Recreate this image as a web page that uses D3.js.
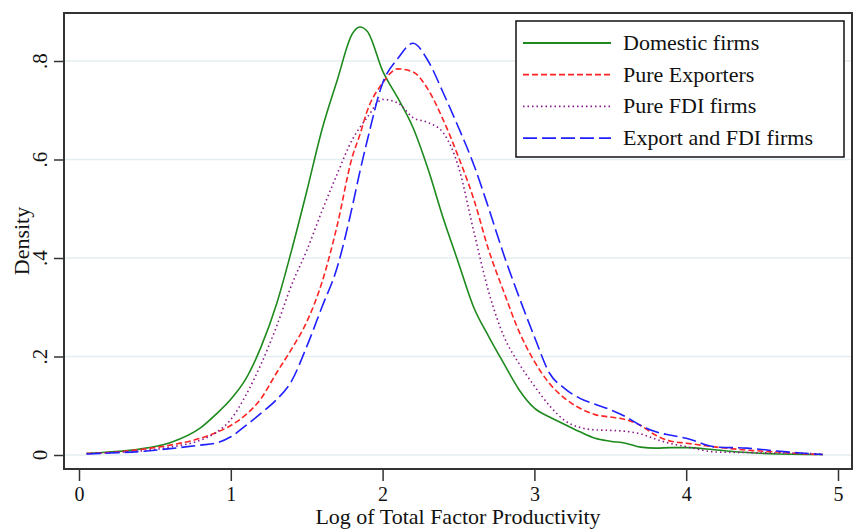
<!DOCTYPE html>
<html>
<head>
<meta charset="utf-8">
<script src="https://cdn.jsdelivr.net/npm/d3@7/dist/d3.min.js"></script>
<style>
  body { margin: 0; background: #fff; }
  svg text { font-family: "Liberation Serif", "Times New Roman", serif; fill: #111; }
</style>
</head>
<body>
<div id="chart"></div>
<script>
// kernel density estimates
var xGrid = [0.05, 0.2, 0.4, 0.6, 0.8, 0.9, 1.0, 1.1, 1.2, 1.3, 1.4, 1.5, 1.6, 1.7, 1.8, 1.85, 1.9, 2.0, 2.1, 2.2, 2.3, 2.4, 2.5, 2.6, 2.7, 2.8, 2.9, 3.0, 3.1, 3.2, 3.3, 3.4, 3.5, 3.6, 3.7, 3.8, 3.9, 4.0, 4.2, 4.4, 4.6, 4.8, 4.9];

var domestic = [0.003, 0.006, 0.012, 0.025, 0.055, 0.082, 0.113, 0.155, 0.22, 0.305, 0.415, 0.535, 0.66, 0.76, 0.855, 0.869, 0.86, 0.78, 0.725, 0.665, 0.58, 0.48, 0.39, 0.30, 0.24, 0.185, 0.132, 0.095, 0.077, 0.062, 0.047, 0.034, 0.028, 0.024, 0.016, 0.014, 0.015, 0.015, 0.01, 0.005, 0.002, 0.001, 0.001];
var pureExporters = [0.003, 0.005, 0.011, 0.02, 0.034, 0.045, 0.06, 0.082, 0.115, 0.166, 0.215, 0.27, 0.35, 0.465, 0.605, 0.65, 0.70, 0.755, 0.784, 0.778, 0.742, 0.68, 0.605, 0.52, 0.415, 0.33, 0.25, 0.19, 0.145, 0.115, 0.095, 0.082, 0.077, 0.072, 0.06, 0.04, 0.028, 0.024, 0.016, 0.01, 0.006, 0.002, 0.001];
var pureFDI = [0.003, 0.005, 0.008, 0.016, 0.03, 0.045, 0.072, 0.122, 0.185, 0.26, 0.345, 0.415, 0.495, 0.57, 0.64, 0.665, 0.686, 0.722, 0.715, 0.685, 0.675, 0.654, 0.585, 0.455, 0.33, 0.24, 0.185, 0.14, 0.1, 0.07, 0.056, 0.051, 0.05, 0.048, 0.043, 0.032, 0.023, 0.017, 0.006, 0.005, 0.004, 0.003, 0.002];
var exportFDI = [0.002, 0.004, 0.007, 0.013, 0.02, 0.024, 0.037, 0.06, 0.085, 0.112, 0.15, 0.22, 0.30, 0.38, 0.504, 0.575, 0.64, 0.755, 0.805, 0.836, 0.80, 0.735, 0.665, 0.59, 0.50, 0.405, 0.32, 0.24, 0.166, 0.135, 0.115, 0.103, 0.092, 0.078, 0.06, 0.047, 0.04, 0.034, 0.016, 0.014, 0.008, 0.003, 0.001];

var seriesNames = ["Domestic firms", "Pure Exporters", "Pure FDI firms", "Export and FDI firms"];
var xTicks = [0, 1, 2, 3, 4, 5];
var yTicks = [0, 0.2, 0.4, 0.6, 0.8];
var yTickLabels = ["0", ".2", ".4", ".6", ".8"];

var width = 861, height = 529;
var frame = {left: 64, top: 13, right: 852, bottom: 469};

var x = d3.scaleLinear().domain([0, 5]).range([79, 838]);
var y = d3.scaleLinear().domain([0, 0.8]).range([455, 61]);

var styles = [
    {color: "#1e8a1e", dash: null},
    {color: "#ff2424", dash: "6,3"},
    {color: "#8a1a8a", dash: "1.5,3"},
    {color: "#2020ff", dash: "14,5"}
];
var allSeries = [domestic, pureExporters, pureFDI, exportFDI];

var svg = d3.select("#chart").append("svg")
    .attr("width", width)
    .attr("height", height);

// grid lines
svg.append("g")
    .selectAll("line")
    .data(yTicks)
    .enter().append("line")
        .attr("x1", frame.left)
        .attr("x2", frame.right)
        .attr("y1", function(d) { return y(d); })
        .attr("y2", function(d) { return y(d); })
        .attr("stroke", "#e4eef0")
        .attr("stroke-width", 1.5);

// y axis, labels rotated like stata
var yAxis = svg.append("g")
    .attr("transform", "translate(" + frame.left + ",0)")
    .call(d3.axisLeft(y).tickValues(yTicks).tickSize(10).tickFormat(""));
yAxis.select(".domain").remove();
yAxis.selectAll("line").attr("stroke", "#333").attr("stroke-width", 1.5);

svg.append("g")
    .selectAll("text")
    .data(yTicks)
    .enter().append("text")
        .attr("transform", function(d) { return "translate(47," + y(d) + ") rotate(-90)"; })
        .attr("text-anchor", "middle")
        .style("font-size", "21px")
        .text(function(d, i) { return yTickLabels[i]; });

// x axis
var xAxis = svg.append("g")
    .attr("transform", "translate(0," + frame.bottom + ")")
    .call(d3.axisBottom(x).tickValues(xTicks).tickSize(12).tickFormat(d3.format("d")));
xAxis.select(".domain").remove();
xAxis.selectAll("line").attr("stroke", "#333").attr("stroke-width", 1.5);
xAxis.selectAll("text")
    .attr("y", 0)
    .attr("dy", 0)
    .attr("transform", "translate(0,32)")
    .style("font-size", "20px")
    .style("font-family", "Liberation Serif, serif")
    .attr("fill", "#111");

// frame
svg.append("rect")
    .attr("x", frame.left)
    .attr("y", frame.top)
    .attr("width", frame.right - frame.left)
    .attr("height", frame.bottom - frame.top)
    .attr("fill", "none")
    .attr("stroke", "#333")
    .attr("stroke-width", 2);

// density curves
var line = d3.line()
    .x(function(d) { return x(d[0]); })
    .y(function(d) { return y(d[1]); })
    .curve(d3.curveMonotoneX);

svg.append("g")
    .selectAll("path")
    .data(allSeries)
    .enter().append("path")
        .attr("d", function(s) { return line(s.map(function(v, i) { return [xGrid[i], v]; })); })
        .attr("fill", "none")
        .attr("stroke", function(s, i) { return styles[i].color; })
        .attr("stroke-width", 1.6)
        .attr("stroke-dasharray", function(s, i) { return styles[i].dash; });

// axis titles
svg.append("text")
    .attr("x", (frame.left + frame.right) / 2)
    .attr("y", 524)
    .attr("text-anchor", "middle")
    .style("font-size", "22px")
    .text("Log of Total Factor Productivity");

svg.append("text")
    .attr("transform", "translate(29," + (frame.top + frame.bottom) / 2 + ") rotate(-90)")
    .attr("text-anchor", "middle")
    .style("font-size", "22px")
    .text("Density");

// legend
var legend = svg.append("g");
legend.append("rect")
    .attr("x", 516).attr("y", 21)
    .attr("width", 328).attr("height", 136)
    .attr("fill", "#fff")
    .attr("stroke", "#111")
    .attr("stroke-width", 1.5);

var rows = legend.selectAll("g.row")
    .data(seriesNames)
    .enter().append("g")
        .attr("class", "row")
        .attr("transform", function(d, i) { return "translate(0," + (43 + i * 31.7) + ")"; });

rows.append("line")
    .attr("x1", 523).attr("x2", 611)
    .attr("y1", 0).attr("y2", 0)
    .attr("stroke", function(d, i) { return styles[i].color; })
    .attr("stroke-width", 1.8)
    .attr("stroke-dasharray", function(d, i) { return styles[i].dash; });

rows.append("text")
    .attr("x", 623)
    .attr("y", 7)
    .style("font-size", "22px")
    .text(function(d) { return d; });
</script>
</body>
</html>
